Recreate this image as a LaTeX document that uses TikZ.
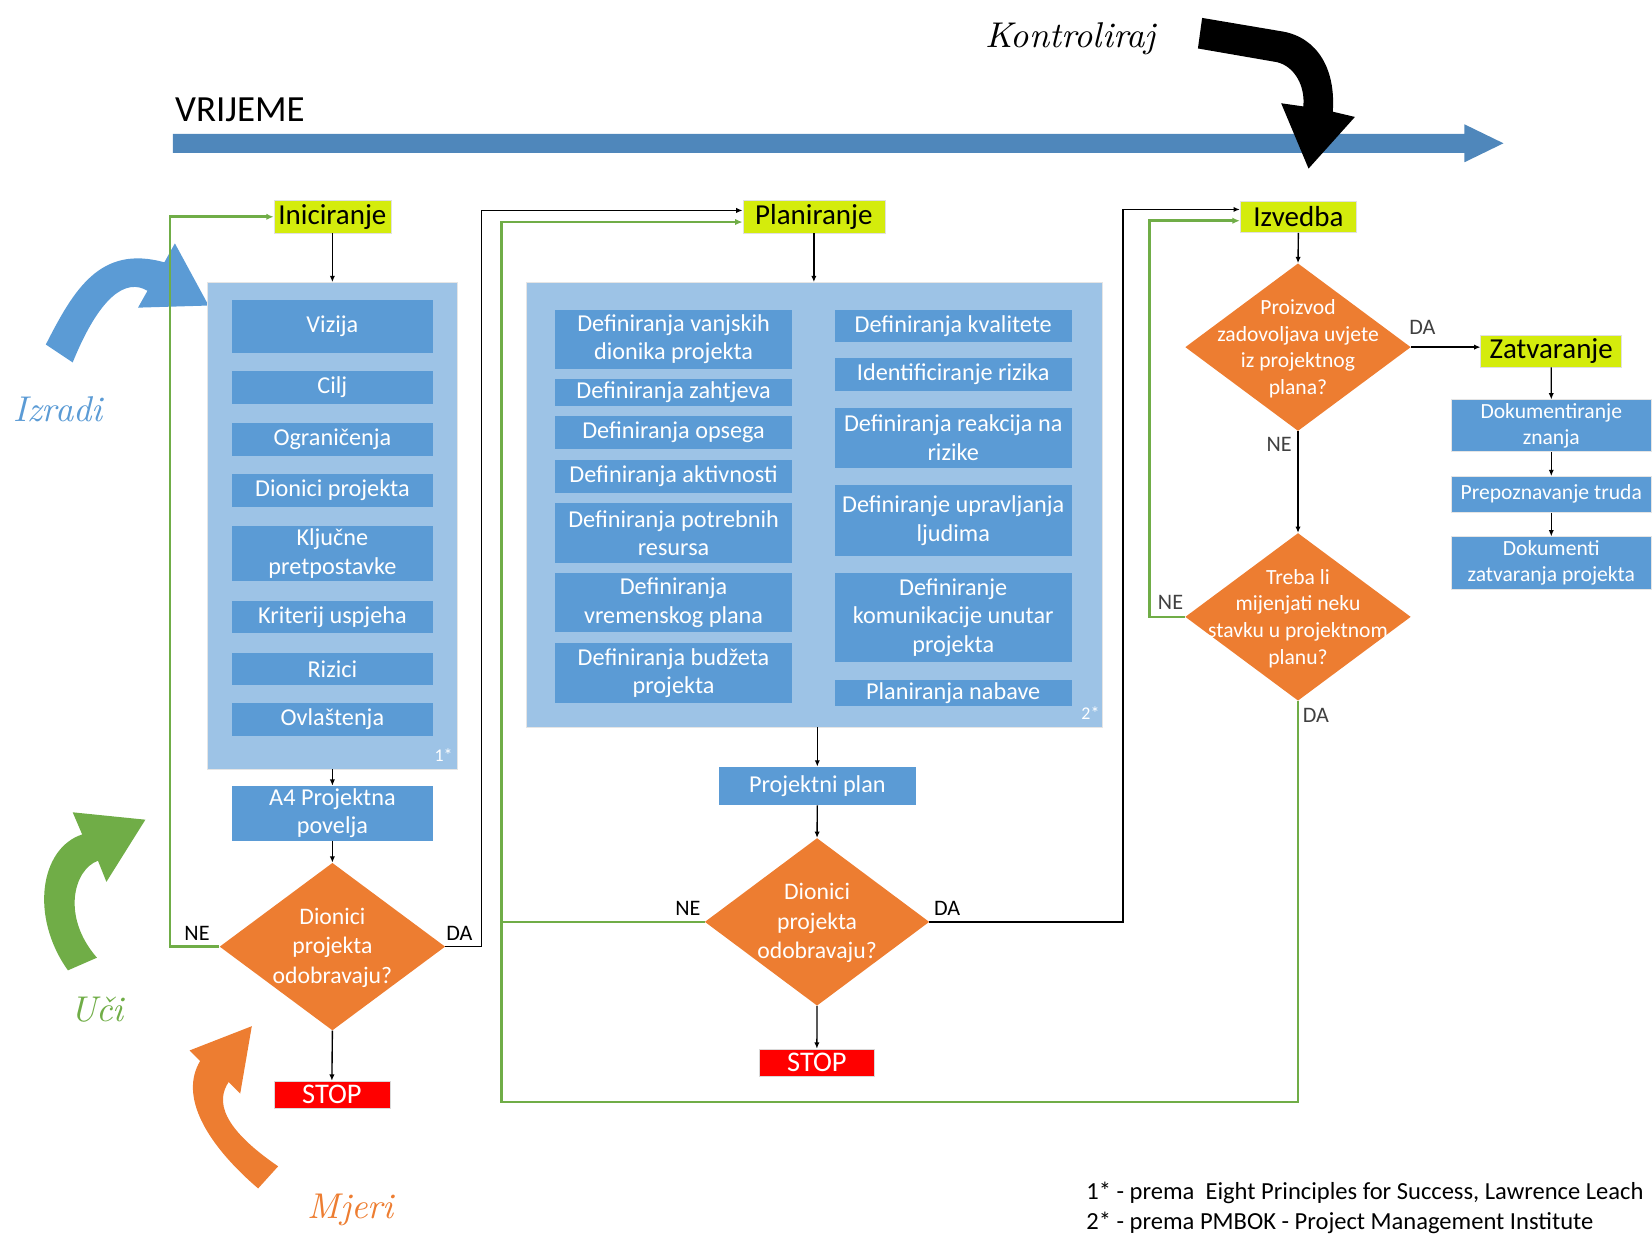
\documentclass[tikz,border=0pt]{standalone}
\usepackage{fontspec}
\setmainfont{Carlito}
\newfontfamily\handf{lmroman10-italic}[Extension=.otf]
\usetikzlibrary{arrows.meta,shapes.geometric}
\definecolor{phaselime}{RGB}{212,236,12}
\definecolor{inblue}{RGB}{91,155,213}
\definecolor{contblue}{RGB}{157,195,230}
\definecolor{orng}{RGB}{237,125,49}
\definecolor{grn}{RGB}{112,173,71}
\definecolor{barblue}{RGB}{79,135,187}
\definecolor{dgray}{RGB}{64,64,64}
\definecolor{stopred}{RGB}{255,0,0}
\begin{document}
\begin{tikzpicture}[x=1pt,y=-1pt,
  phase/.style={rectangle, fill=phaselime, draw=black!12, inner sep=0pt, font=\fontsize{27.5}{30}\selectfont},
  ibox/.style={rectangle, fill=inblue, text=white, inner sep=0pt, align=center, font=\fontsize{23}{27}\selectfont},
  rbox/.style={ibox, draw=black!10, font=\fontsize{20.5}{24.5}\selectfont},
  cont/.style={rectangle, fill=contblue, draw=black!10, inner sep=0pt},
  dec/.style={diamond, fill=orng, inner sep=0pt, minimum width=214pt, minimum height=159pt},
  dtext/.style={text=white, align=center, inner sep=0pt, font=\fontsize{22.5}{28}\selectfont},
  dtextsm/.style={text=white, align=center, inner sep=0pt, font=\fontsize{20.5}{25.3}\selectfont},
  stopbox/.style={rectangle, fill=stopred, draw=black!15, text=white, inner sep=0pt, font=\fontsize{27}{30}\selectfont},
  lbl/.style={font=\fontsize{21}{24}\selectfont, inner sep=0pt},
  glbl/.style={lbl, text=dgray},
  star/.style={text=white, inner sep=0pt, font=\fontsize{17}{19}\selectfont},
  conn/.style={draw=black, line width=1.3pt, -{Latex[length=6pt,width=5pt]}},
  gconn/.style={draw=grn, line width=2.6pt, -{Latex[length=7pt,width=6pt]}},
  gline/.style={draw=grn, line width=2.6pt},
  hand/.style={inner sep=0pt, font=\handf\fontsize{34}{40}\selectfont}
]
\useasboundingbox (0,0) rectangle (1568,1177);

% time axis
\node[anchor=base west, inner sep=0pt, font=\fontsize{35}{40}\selectfont] (vrijeme) at (166,115.5) {VRIJEME};
\fill[barblue] (164,127) -- (1390,127) -- (1390,118) -- (1427,136) -- (1390,154) -- (1390,145) -- (164,145) -- cycle;

% Kontroliraj arrow
\fill[black] (1141,17) -- (1218,30) .. controls (1250,36) and (1268,65) .. (1265,106)
  -- (1286,111) -- (1242,160) -- (1216,98) -- (1237,101)
  .. controls (1239,82) and (1229,63) .. (1212,59) -- (1137,46) -- cycle;
\node[hand] (kontr) at (1016,37) {Kontroliraj};

% Izradi arrow
\fill[inblue] (43.5,327) .. controls (70,275) and (95,232) .. (156,249) -- (166,231) -- (198,290) -- (131,292) -- (140,276)
  .. controls (120,264) and (95,280) .. (69,344) -- cycle;
\node[hand, text=inblue] (izradi) at (55,388) {Izradi};

% Uci arrow
\fill[grn] (64.5,921) .. controls (28,870) and (38,805) .. (78,792) -- (69,771) -- (138,778) -- (101,837) -- (93,817)
  .. controls (70,825) and (58,870) .. (92,909) -- cycle;
\node[hand, text=grn] (uci) at (92,958) {Uči};

% Mjeri arrow
\fill[orng] (245,1128) .. controls (195,1085) and (170,1040) .. (190,1007) -- (180,997) -- (239,974) -- (228,1038) -- (217,1027)
  .. controls (205,1045) and (210,1070) .. (264,1107) -- cycle;
\node[hand, text=orng] (mjeri) at (333,1148) {Mjeri};

% ---------- Iniciranje ----------
\node[phase, minimum width=111pt, minimum height=30.5pt] (ini) at (315.5,205.75) {Iniciranje};
\node[cont, minimum width=237pt, minimum height=462pt] (c1) at (315.5,499) {};
\node[ibox, minimum width=191pt, minimum height=50pt] (viz) at (315.5,310) {Vizija};
\node[ibox, minimum width=191pt, minimum height=31.5pt] (cilj) at (315.5,367.5) {Cilj};
\node[ibox, minimum width=191pt, minimum height=31.5pt] (ogr) at (315.5,417) {Ograničenja};
\node[ibox, minimum width=191pt, minimum height=31.5pt] (dion) at (315.5,465.5) {Dionici projekta};
\node[ibox, minimum width=191pt, minimum height=52pt] (klj) at (315.5,525.5) {Ključne\\pretpostavke};
\node[ibox, minimum width=191pt, minimum height=31pt] (krit) at (315.5,585.5) {Kriterij uspjeha};
\node[ibox, minimum width=191pt, minimum height=31pt] (riz) at (315.5,635) {Rizici};
\node[ibox, minimum width=191pt, minimum height=31pt] (ovl) at (315.5,683) {Ovlaštenja};
\node[star] (s1) at (421,717) {1*};
\node[ibox, minimum width=191pt, minimum height=52pt] (a4) at (315.5,772) {A4 Projektna\\povelja};
\node[dec] (d1) at (315.5,898.5) {};
\node[dtext] (d1t) at ([yshift=-1pt]d1) {Dionici\\projekta\\odobravaju?};
\node[stopbox, minimum width=110pt, minimum height=26pt] (stop1) at (315,1039) {STOP};
\node[lbl] (d1ne) at (187,886) {NE};
\node[lbl] (d1da) at (436,886) {DA};

\draw[conn] (ini.south) -- (c1.north);
\draw[conn] (c1.south) -- (a4.north);
\draw[conn] (a4.south) -- (d1.north);
\draw[conn] (d1.south) -- (stop1.north);
\draw[gconn] (d1.west) -- ++(-47,0) |- (ini.west);

% ---------- Planiranje ----------
\node[phase, minimum width=135pt, minimum height=30.5pt] (plan) at (772.5,205.75) {Planiranje};
\node[cont, minimum width=547pt, minimum height=422pt] (c2) at (772.5,479) {};
\node[ibox, minimum width=225pt, minimum height=56pt] (l1) at (639.3,322) {Definiranja vanjskih\\dionika projekta};
\node[ibox, minimum width=225pt, minimum height=25.3pt] (l2) at (639.3,372.5) {Definiranja zahtjeva};
\node[ibox, minimum width=225pt, minimum height=31pt] (l3) at (639.3,410.5) {Definiranja opsega};
\node[ibox, minimum width=225pt, minimum height=30.7pt] (l4) at (639.3,452.3) {Definiranja aktivnosti};
\node[ibox, minimum width=225pt, minimum height=56.2pt] (l5) at (639.3,505.8) {Definiranja potrebnih\\resursa};
\node[ibox, minimum width=225pt, minimum height=56pt] (l6) at (639.3,572) {Definiranja\\vremenskog plana};
\node[ibox, minimum width=225pt, minimum height=56.5pt] (l7) at (639.3,639) {Definiranja budžeta\\projekta};
\node[ibox, minimum width=225pt, minimum height=30.6pt] (r1) at (904.75,309.3) {Definiranja kvalitete};
\node[ibox, minimum width=225pt, minimum height=31pt] (r2) at (904.75,355.5) {Identificiranje rizika};
\node[ibox, minimum width=225pt, minimum height=56.5pt] (r3) at (904.75,415.6) {Definiranja reakcija na\\rizike};
\node[ibox, minimum width=225pt, minimum height=66.6pt] (r4) at (904.75,494) {Definiranje upravljanja\\ljudima};
\node[ibox, minimum width=225pt, minimum height=85pt] (r5) at (904.75,586.2) {Definiranje\\komunikacije unutar\\projekta};
\node[ibox, minimum width=225pt, minimum height=25.2pt] (r6) at (904.75,657.6) {Planiranja nabave};
\node[star] (s2) at (1035,677) {2*};
\node[ibox, minimum width=186.5pt, minimum height=36.4pt] (pp) at (775.75,746) {Projektni plan};
\node[dec, minimum width=213pt] (d2) at (775.5,875) {};
\node[dtext] (d2t) at ([yshift=-1pt]d2) {Dionici\\projekta\\odobravaju?};
\node[stopbox, minimum width=109.3pt, minimum height=25.7pt] (stop2) at (775.35,1008.45) {STOP};
\node[lbl] (d2ne) at (653,862) {NE};
\node[lbl] (d2da) at (899,862) {DA};

\draw[conn] (d1.east) -- (457,898.5) |- ([yshift=6pt]plan.west);
\draw[conn] (plan.south) -- (c2.north);
\draw[conn] (pp.north |- c2.south) -- (pp.north);
\draw[conn] (pp.south) -- (d2.north);
\draw[conn] (d2.south) -- (stop2.north);
\draw[gline] (d2.west) -- (476,875);

% ---------- Izvedba ----------
\node[phase, minimum width=110.7pt, minimum height=30pt] (izv) at (1232.35,205.8) {Izvedba};
\node[dec] (d3) at (1232,329.5) {};
\node[dtextsm] (d3t) at ([yshift=-1.5pt]d3) {Proizvod\\zadovoljava uvjete\\iz projektnog\\plana?};
\node[dec] (d4) at (1232,585.5) {};
\node[dtextsm] (d4t) at ([yshift=-1.5pt]d4) {Treba li\\mijenjati neku\\stavku u projektnom\\planu?};
\node[glbl] (d3da) at (1350,311) {DA};
\node[glbl] (d3ne) at (1214,422) {NE};
\node[glbl] (d4ne) at (1111,572) {NE};
\node[glbl] (d4da) at (1249,679) {DA};

\draw[conn] (d2.east) -- (1066,875) |- ([yshift=7pt]izv.west);
\draw[conn] (izv.south) -- (d3.north);
\draw[conn] (d3.south) -- (d4.north);
\draw[gconn] (d4.west) -- (1091,585.5) |- ([yshift=-3.7pt]izv.west);
\draw[gconn] (d4.south) |- (476,1046) |- ([yshift=-5pt]plan.west);

% ---------- Zatvaranje ----------
\node[phase, minimum width=133.8pt, minimum height=30pt] (zat) at (1472.3,333.6) {Zatvaranje};
\node[rbox, minimum width=190.4pt, minimum height=49.3pt] (dz) at (1472.4,404) {Dokumentiranje\\znanja};
\node[rbox, minimum width=190.4pt, minimum height=34.1pt] (ptr) at (1472.4,469.2) {Prepoznavanje truda};
\node[rbox, minimum width=190.4pt, minimum height=49.7pt] (dzp) at (1472.4,534.2) {Dokumenti\\zatvaranja projekta};

\draw[conn] (d3.east) -- (d3.east -| zat.west);
\draw[conn] (zat.south) -- (dz.north);
\draw[conn] (dz.south) -- (ptr.north);
\draw[conn] (ptr.south) -- (dzp.north);

% footnotes
\node[anchor=base west, inner sep=0pt, align=left, font=\fontsize{23.3}{28}\selectfont] (fn) at (1031,1166.5)
  {1* - prema~ Eight Principles for Success, Lawrence Leach\\2* - prema PMBOK - Project Management Institute};
\end{tikzpicture}
\end{document}
